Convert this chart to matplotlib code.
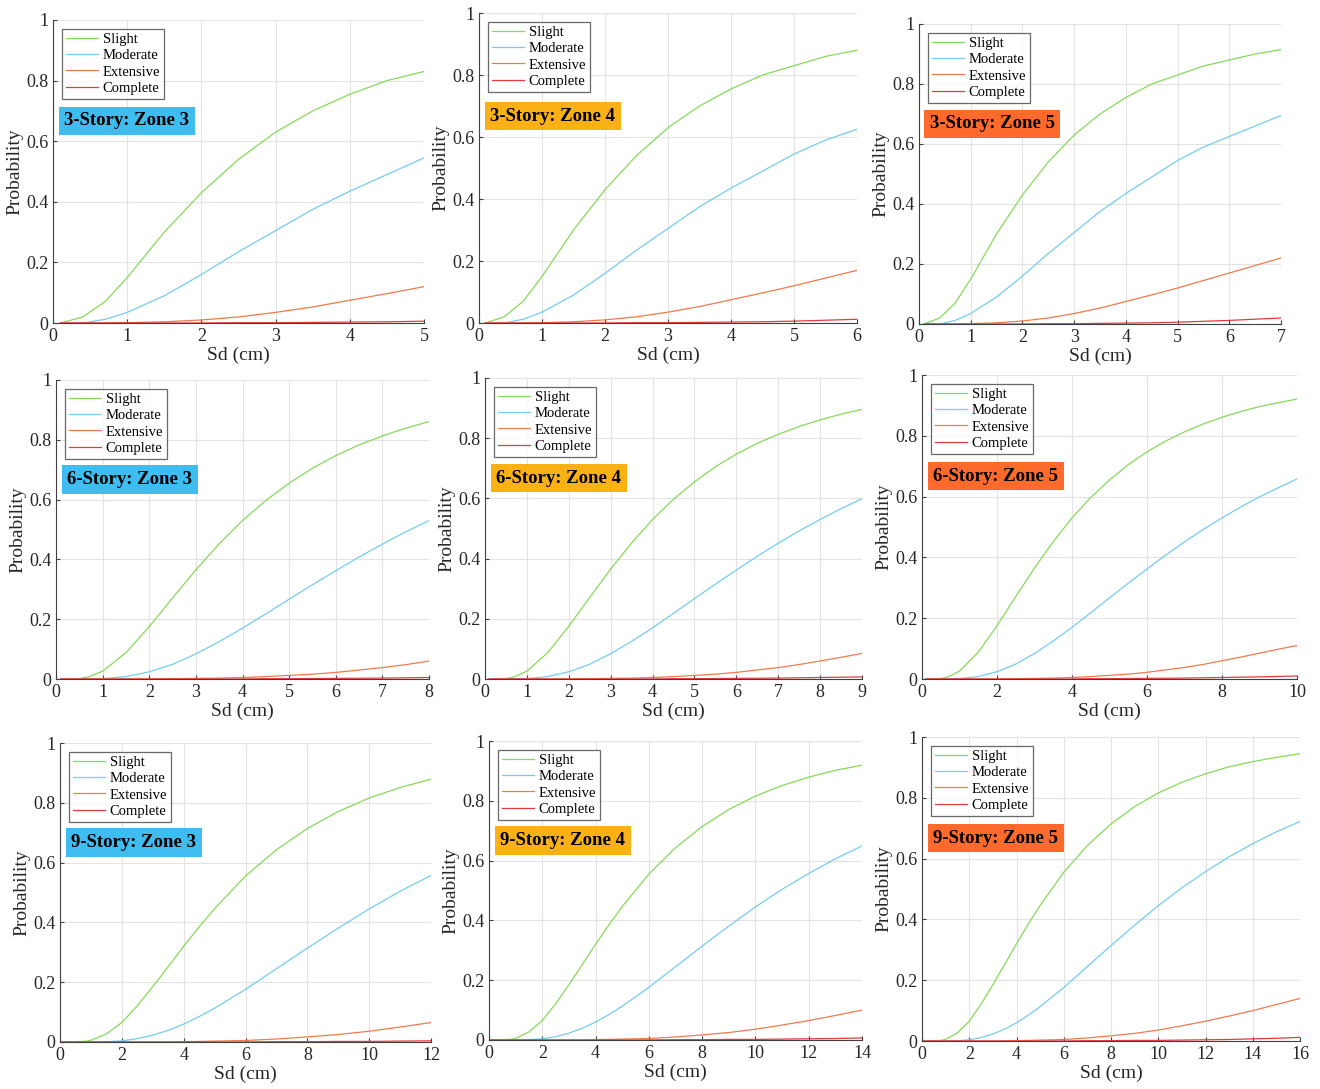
import matplotlib
matplotlib.use("Agg")
import matplotlib.pyplot as plt
import numpy as np

plt.rcParams['font.family'] = ['Liberation Serif', 'DejaVu Serif']

damage_states = ["Slight", "Moderate", "Extensive", "Complete"]
colors = ["#86d95a", "#74cdef", "#f07a4e", "#e63a3f"]

# fragility curves, one set per building height
sd_3 = [0.1, 0.4, 0.7, 1.0, 1.5, 2.0, 2.5, 3.0, 3.5, 4.0, 4.5, 5.0, 5.5, 6.0, 6.5, 7.0]
slight_3 = [0, 0.02, 0.07, 0.15, 0.30, 0.43, 0.54, 0.63, 0.70, 0.755, 0.80, 0.83, 0.86, 0.88, 0.90, 0.915]
moderate_3 = [0, 0.0, 0.012, 0.035, 0.09, 0.16, 0.235, 0.305, 0.375, 0.435, 0.49, 0.545, 0.59, 0.625, 0.66, 0.695]
extensive_3 = [0, 0, 0, 0.001, 0.004, 0.01, 0.02, 0.035, 0.053, 0.075, 0.097, 0.12, 0.145, 0.17, 0.195, 0.22]
complete_3 = [0, 0, 0, 0, 0, 0, 0.001, 0.001, 0.002, 0.003, 0.004, 0.006, 0.009, 0.012, 0.016, 0.02]

sd_6 = [0.1, 0.5, 0.7, 1, 1.5, 2, 2.5, 3, 3.5, 4, 4.5, 5, 5.5, 6, 6.5, 7, 7.5, 8, 8.5, 9, 9.5, 10]
slight_6 = [0, 0.0015, 0.007, 0.026, 0.088, 0.175, 0.271, 0.365, 0.452, 0.53, 0.597, 0.655, 0.705,
            0.747, 0.783, 0.813, 0.839, 0.861, 0.88, 0.896, 0.909, 0.921]
moderate_6 = [0, 0, 0, 0.0013, 0.008, 0.024, 0.049, 0.084, 0.125, 0.17, 0.218, 0.267, 0.315,
              0.362, 0.408, 0.451, 0.492, 0.53, 0.566, 0.599, 0.629, 0.658]
extensive_6 = [0, 0, 0, 0, 0, 0, 0.001, 0.002, 0.003, 0.005, 0.008, 0.012, 0.016,
               0.022, 0.03, 0.038, 0.048, 0.06, 0.072, 0.085, 0.098, 0.11]
complete_6 = [0, 0, 0, 0, 0, 0, 0, 0, 0, 0, 0.001, 0.001, 0.0015,
              0.002, 0.0025, 0.003, 0.004, 0.005, 0.006, 0.007, 0.0085, 0.01]

sd_9 = [0, 0.8, 1, 1.5, 2, 2.5, 3, 3.5, 4, 4.5, 5, 6, 7, 8, 9, 10, 11, 12, 13, 14, 15, 16]
slight_9 = [0, 0.002, 0.0055, 0.027, 0.065, 0.121, 0.185, 0.252, 0.32, 0.385, 0.446, 0.555,
            0.643, 0.714, 0.771, 0.816, 0.851, 0.879, 0.902, 0.919, 0.933, 0.945]
moderate_9 = [0, 0, 0, 0.001, 0.004, 0.011, 0.023, 0.039, 0.06, 0.085, 0.113, 0.176,
              0.245, 0.314, 0.381, 0.445, 0.504, 0.557, 0.606, 0.649, 0.688, 0.722]
extensive_9 = [0, 0, 0, 0, 0, 0, 0, 0, 0.001, 0.002, 0.003, 0.005,
               0.01, 0.017, 0.025, 0.036, 0.05, 0.065, 0.082, 0.10, 0.12, 0.14]
complete_9 = [0, 0, 0, 0, 0, 0, 0, 0, 0, 0, 0, 0,
              0.001, 0.001, 0.002, 0.002, 0.003, 0.004, 0.005, 0.007, 0.009, 0.012]

curves = {
    3: (sd_3, [slight_3, moderate_3, extensive_3, complete_3]),
    6: (sd_6, [slight_6, moderate_6, extensive_6, complete_6]),
    9: (sd_9, [slight_9, moderate_9, extensive_9, complete_9]),
}

stories = [3, 3, 3, 6, 6, 6, 9, 9, 9]
zones = [3, 4, 5, 3, 4, 5, 3, 4, 5]
x_max = [5, 6, 7, 8, 9, 10, 12, 14, 16]
x_step = [1, 1, 1, 1, 1, 2, 2, 2, 2]
zone_colors = {3: "#3fbdf0", 4: "#f9b116", 5: "#fd6a2b"}

# axes boxes in pixels (left, right, top, bottom), the panels are not aligned
boxes = [(53, 424, 20, 323), (479, 857, 13, 323), (919, 1281, 24, 324),
         (56, 429, 380, 679), (485, 862, 378, 679), (922, 1297, 375, 679),
         (60, 431, 743, 1042), (489, 862, 741, 1040), (922, 1300, 737, 1041)]

W, H = 1320, 1089
fig = plt.figure(figsize=(W / 100, H / 100), dpi=100)

for i in range(9):
    l, r, t, b = boxes[i]
    ax = fig.add_axes([l / W, 1 - b / H, (r - l) / W, (b - t) / H])
    sd, series = curves[stories[i]]
    sd = np.array(sd)
    keep = sd <= x_max[i]
    for name, vals, c in zip(damage_states, series, colors):
        ax.plot(sd[keep], np.array(vals)[keep], color=c, lw=0.9, label=name)

    ax.set_xlim(0, x_max[i])
    ax.set_ylim(0, 1)
    ax.set_xticks(np.arange(0, x_max[i] + 0.1, x_step[i]))
    ax.set_yticks([0, 0.2, 0.4, 0.6, 0.8, 1])
    ax.set_yticklabels(["0", "0.2", "0.4", "0.6", "0.8", "1"])
    ax.grid(True, color="#e3e3e3", lw=0.8)
    ax.set_axisbelow(True)
    for s in ["top", "right"]:
        ax.spines[s].set_visible(False)
    for s in ["left", "bottom"]:
        ax.spines[s].set_color("#404040")
        ax.spines[s].set_linewidth(0.8)
    ax.tick_params(direction="in", length=3, labelsize=13, colors="#404040", labelcolor="#262626")
    ax.set_xlabel("Sd (cm)", fontsize=14, color="#262626", labelpad=1)
    ax.set_ylabel("Probability", fontsize=14, color="#262626", labelpad=2)

    leg = ax.legend(loc="upper left", fontsize=10.5, frameon=True, fancybox=False,
                    handlelength=2.2, handletextpad=0.3, borderpad=0.3,
                    labelspacing=0.2, borderaxespad=0.6)
    leg.get_frame().set_edgecolor("#444444")
    leg.get_frame().set_linewidth(0.9)

    ax.text(0.03, 0.667, f"{stories[i]}-Story: Zone {zones[i]}", transform=ax.transAxes,
            fontsize=13.5, fontweight="bold", ha="left", va="center",
            bbox=dict(boxstyle="square,pad=0.3", fc=zone_colors[zones[i]], ec="none"))

fig.savefig("out.png", dpi=100)
